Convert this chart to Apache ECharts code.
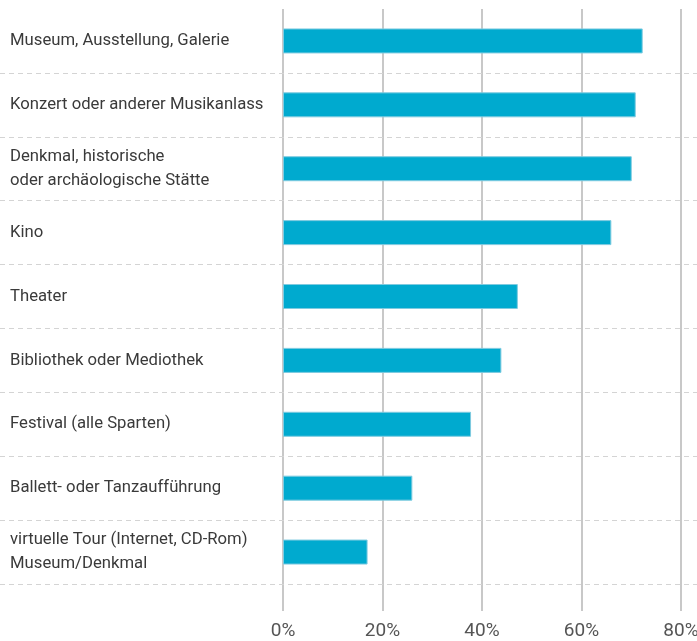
<!DOCTYPE html>
<html lang="de">

<head>
    <meta charset="utf-8">
    <title>Kulturbesuche</title>
    <script src="https://cdn.jsdelivr.net/npm/echarts@6/dist/echarts.min.js"></script>
    <style>
        html, body { margin: 0; padding: 0; background: #fff; }
        #container { width: 697px; height: 641px; }
    </style>
</head>

<body>
<div id="container"></div>
<script>
    const categories = [
        "Museum, Ausstellung, Galerie",
        "Konzert oder anderer Musikanlass",
        "Denkmal, historische\noder archäologische Stätte",
        "Kino",
        "Theater",
        "Bibliothek oder Mediothek",
        "Festival (alle Sparten)",
        "Ballett- oder Tanzaufführung",
        "virtuelle Tour (Internet, CD-Rom)\nMuseum/Denkmal"
    ];
    const shares = [72.3, 70.9, 70.1, 66.0, 47.2, 43.9, 37.8, 26.0, 17.0];
    const tickValues = [0, 20, 40, 60, 80];

    const gridTop = 9;
    const gridBottom = 57;

    const option = {
        animation: false,
        textStyle: {
            fontFamily: "Roboto, 'Noto Sans', sans-serif"
        },
        grid: [
            { left: 0, right: 0, top: gridTop, bottom: gridBottom, outerBoundsMode: "none" },
            { left: 283, right: 16, top: gridTop, bottom: gridBottom, outerBoundsMode: "none" }
        ],
        xAxis: [
            { type: "value", gridIndex: 0, show: false },
            {
                type: "value",
                gridIndex: 1,
                min: tickValues[0],
                max: tickValues[tickValues.length - 1],
                interval: 20,
                axisLine: { show: false },
                axisTick: {
                    show: true,
                    length: 27,
                    lineStyle: { color: "#c8c8c8", width: 2 }
                },
                splitLine: {
                    show: true,
                    lineStyle: { color: "#c8c8c8", width: 2 }
                },
                axisLabel: {
                    margin: 38,
                    fontSize: 19,
                    color: "#555",
                    formatter: v => v + "%"
                }
            }
        ],
        yAxis: [
            {
                type: "category",
                gridIndex: 0,
                inverse: true,
                data: categories,
                axisLine: { show: false },
                axisTick: { show: false },
                splitLine: {
                    show: true,
                    showMinLine: false,
                    lineStyle: { color: "#d4d4d4", width: 1, type: [5, 4] }
                },
                axisLabel: {
                    inside: true,
                    margin: 10,
                    fontSize: 16.7,
                    lineHeight: 24,
                    color: "#3a3a3a"
                },
                z: 1
            },
            {
                type: "category",
                gridIndex: 1,
                inverse: true,
                data: categories,
                show: false
            }
        ],
        series: [
            {
                type: "bar",
                xAxisIndex: 1,
                yAxisIndex: 1,
                data: shares,
                barWidth: 25,
                itemStyle: {
                    color: "#00aacf",
                    borderColor: "#7fcbe0",
                    borderWidth: 1
                },
                z: 3
            }
        ]
    };

    let chart = echarts.init(document.getElementById("container"));
    chart.setOption(option);
</script>
</body>

</html>
